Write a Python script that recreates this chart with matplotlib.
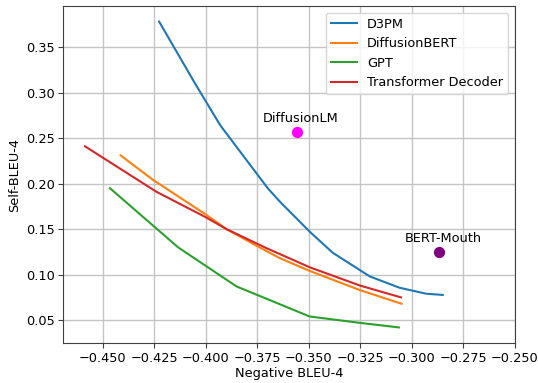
import matplotlib

matplotlib.use("Agg")
import matplotlib.pyplot as plt

# Negative BLEU-4 vs Self-BLEU-4 curves
d3pm_x = [-0.4227, -0.405, -0.393, -0.380, -0.370, -0.364, -0.3495, -0.3384, -0.3204, -0.306, -0.293, -0.285]
d3pm_y = [0.378, 0.309, 0.264, 0.225, 0.195, 0.180, 0.147, 0.124, 0.098, 0.0856, 0.079, 0.0777]

dbert_x = [-0.4414, -0.4256, -0.400, -0.390, -0.374, -0.364, -0.3495, -0.3252, -0.305]
dbert_y = [0.231, 0.204, 0.166, 0.150, 0.130, 0.118, 0.104, 0.083, 0.068]

gpt_x = [-0.4466, -0.4135, -0.3851, -0.3496, -0.3252, -0.3063]
gpt_y = [0.195, 0.130, 0.087, 0.054, 0.047, 0.042]

tdec_x = [-0.4587, -0.424, -0.400, -0.390, -0.3705, -0.3495, -0.3252, -0.3053]
tdec_y = [0.241, 0.191, 0.163, 0.150, 0.129, 0.108, 0.088, 0.075]

point_names = ["DiffusionLM", "BERT-Mouth"]
point_x = [-0.356, -0.2869]
point_y = [0.2568, 0.1247]
point_colors = ["magenta", "purple"]

plt.rcParams.update({"font.size": 9.3})

fig = plt.figure(figsize=(5.38, 3.83), dpi=100)
ax = fig.add_axes([0.117, 0.104, 0.840, 0.880])

ax.plot(d3pm_x, d3pm_y, label="D3PM")
ax.plot(dbert_x, dbert_y, label="DiffusionBERT")
ax.plot(gpt_x, gpt_y, label="GPT")
ax.plot(tdec_x, tdec_y, label="Transformer Decoder")

for name, x, y, c in zip(point_names, point_x, point_y, point_colors):
    ax.scatter([x], [y], color=c, s=50, zorder=3)
    ax.annotate(name, (x, y), textcoords="offset points", xytext=(3, 5),
                ha="center", va="bottom")

ax.set_xlim(-0.4694, -0.25)
ax.set_ylim(0.0247, 0.395)
ax.set_xticks([-0.450, -0.425, -0.400, -0.375, -0.350, -0.325, -0.300, -0.275, -0.250])
ax.set_yticks([0.05, 0.10, 0.15, 0.20, 0.25, 0.30, 0.35])
ax.tick_params(pad=2.5)
ax.grid(True, color="#c4c4c4", linewidth=1.0)
ax.set_axisbelow(True)
for s in ax.spines.values():
    s.set_color("#404040")
ax.tick_params(color="#404040")
ax.set_xlabel("Negative BLEU-4", labelpad=2)
ax.set_ylabel("Self-BLEU-4", labelpad=3)
ax.legend(loc="upper right")

fig.savefig("out.png", dpi=100)
